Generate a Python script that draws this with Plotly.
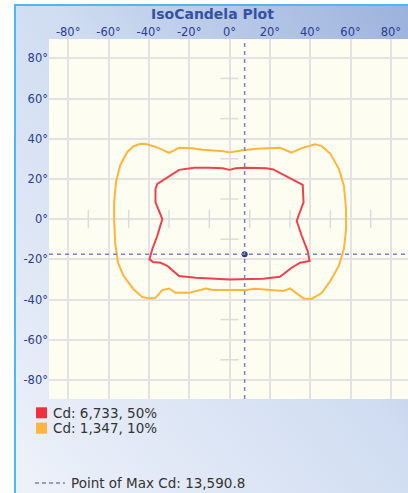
import plotly.graph_objects as go

# ---- data ----
title_text = "IsoCandela Plot"
x_ticks = [-80, -60, -40, -20, 0, 20, 40, 60, 80]
y_ticks = [80, 60, 40, 20, 0, -20, -40, -60, -80]
x_tick_labels = [f"{v}°" for v in x_ticks]
y_tick_labels = [f"{v}°" for v in y_ticks]
minor_ticks = [-70, -50, -30, -10, 10, 30, 50, 70]

red_label = "Cd: 6,733, 50%"
red_x = [0, 3, 8.3, 18.3, 21.7, 36.3, 36.7, 33.3, 35.8, 38.7, 39.7, 35, 30.8, 25, 16.7, 0,
         -16.7, -25, -30.8, -34.2, -38, -39.7, -38.3, -35.8, -33.3, -36.7, -36.7, -35.8,
         -25, -21.7, -17.5, -10, -3.3, 0]
red_y = [24.5, 25.3, 25.5, 25.3, 24.7, 17, 8.3, -0.8, -8.3, -15.8, -20.8, -21.7, -24.2, -28.7, -29.7, -30,
         -29.2, -28.3, -23.3, -21.7, -21.3, -20, -15, -8.3, 0, 8.3, 15, 17.5,
         24.5, 25, 25.5, 25.5, 25.3, 24.5]

orange_label = "Cd: 1,347, 10%"
orange_x = [0, 3, 6.7, 13.3, 25, 30.8, 35.8, 42.5, 45.8, 50, 54.2, 56.7, 57.8, 57.8, 56.7, 54.2,
            50, 45.8, 40.8, 36.7, 32.5, 30, 26.7, 20, 12.5, 8.3, 0,
            -8.3, -11.7, -15, -20, -26.7, -30, -33.3, -36.7, -40, -43.3, -47.5, -52.5, -55.3,
            -56.7, -57.2, -57.2, -56.3, -54.2, -50.8, -47.5, -44.2, -40.8, -35, -30, -25,
            -18.3, -13.3, -5, -3, 0]
orange_y = [33.2, 33.8, 34.2, 35, 35.5, 33, 35.3, 37.2, 36.3, 32.5, 25, 16.7, 5, -5, -15, -23.3,
            -30.8, -36.7, -39.7, -39.5, -36.3, -34.5, -35.8, -35.3, -34.7, -35.3, -35.3,
            -35.3, -34.5, -35.3, -36.7, -36.7, -34.5, -35.3, -39.2, -39.5, -38.7, -35, -28.3, -21.7,
            -11.7, 0, 8.3, 18.3, 26.7, 33.3, 36.3, 37.5, 37.2, 35.3, 33, 35.5,
            35.3, 34.5, 34, 33.8, 33.2]

max_x = [7.5]
max_y = [-17.5]
max_label = "Point of Max Cd: 13,590.8"

# ---- layout geometry (pixels) ----
W, H = 408, 493
L, T, B = 49, 39, 94
PW, PH = W - L, H - T - B


def px(x):
    return (x - L) / PW


def py(y):
    return (H - B - y) / PH


RED = "#f0303c"
ORANGE = "#ffb53a"
BLUE_TXT = "#2b3d92"
DASH_COL = "#7683c6"

fig = go.Figure()

# cream plot area (drawn above the panel gradient image, below gridlines)
fig.add_shape(type="rect", xref="paper", yref="paper", x0=0, x1=1, y0=0, y1=1,
              fillcolor="#fdfdf2", line=dict(width=0), layer="below")

# minor center ticks
for v in minor_ticks:
    fig.add_shape(type="line", x0=v, x1=v, y0=-4.5, y1=4.5, xref="x", yref="y",
                  line=dict(color="#dcdcdc", width=1.5), layer="between")
    fig.add_shape(type="line", x0=-4.5, x1=4.5, y0=v, y1=v, xref="x", yref="y",
                  line=dict(color="#dcdcdc", width=1.5), layer="between")

fig.add_trace(go.Scatter(x=orange_x, y=orange_y, mode="lines", name=orange_label,
                         line=dict(color=ORANGE, width=2), hoverinfo="skip"))
fig.add_trace(go.Scatter(x=red_x, y=red_y, mode="lines", name=red_label,
                         line=dict(color="#f04049", width=2), hoverinfo="skip"))

# crosshair at max point
fig.add_shape(type="line", x0=max_x[0], x1=max_x[0], y0=0, y1=1, xref="x", yref="paper",
              line=dict(color=DASH_COL, width=1.5, dash="4px,4px"))
fig.add_shape(type="line", x0=0, x1=1, y0=max_y[0], y1=max_y[0], xref="paper", yref="y",
              line=dict(color=DASH_COL, width=1.5, dash="4px,4px"))
fig.add_trace(go.Scatter(x=max_x, y=max_y, mode="markers", name=max_label,
                         marker=dict(color="#2c3c8c", size=6), hoverinfo="skip"))

# background panel gradient
svg = ("data:image/svg+xml;utf8,"
       "<svg xmlns='http://www.w3.org/2000/svg' width='400' height='500' preserveAspectRatio='none'>"
       "<defs><linearGradient id='g' x1='0' y1='1' x2='1' y2='0'>"
       "<stop offset='0' stop-color='%23eef2fa'/>"
       "<stop offset='0.55' stop-color='%23cfdcf1'/>"
       "<stop offset='1' stop-color='%239cb2dc'/>"
       "</linearGradient></defs>"
       "<rect width='400' height='500' fill='url(%23g)'/></svg>")
fig.add_layout_image(source=svg, xref="paper", yref="paper",
                     x=px(14), y=py(5), sizex=(W - 14) / PW, sizey=(H - 5) / PH,
                     xanchor="left", yanchor="top", sizing="stretch", layer="below")

# panel borders
fig.add_shape(type="line", xref="paper", yref="paper", x0=px(15), x1=px(15), y0=py(5), y1=py(H),
              line=dict(color="#4db8ef", width=2))
fig.add_shape(type="line", xref="paper", yref="paper", x0=px(14), x1=px(W), y0=py(5), y1=py(5),
              line=dict(color="#4db8ef", width=2))

# legend
legend_items = [(red_label, RED, 412.8), (orange_label, ORANGE, 428.2)]
for label, col, yc in legend_items:
    fig.add_shape(type="rect", xref="paper", yref="paper",
                  x0=px(36), x1=px(47), y0=py(yc - 5.5), y1=py(yc + 5.5),
                  fillcolor=col, line=dict(width=0))
    fig.add_annotation(text=label, xref="paper", yref="paper", x=px(51), y=py(yc),
                       xanchor="left", yanchor="middle", showarrow=False,
                       font=dict(family="DejaVu Sans", size=13.5, color="#333333"))
fig.add_shape(type="line", xref="paper", yref="paper", x0=px(35), x1=px(65),
              y0=py(483), y1=py(483), line=dict(color=DASH_COL, width=1.5, dash="4px,3px"))
fig.add_annotation(text=max_label, xref="paper", yref="paper", x=px(69), y=py(483),
                   xanchor="left", yanchor="middle", showarrow=False,
                   font=dict(family="DejaVu Sans", size=13.5, color="#333333"))

# title
fig.add_annotation(text="<b>" + title_text + "</b>", xref="paper", yref="paper",
                   x=px(212), y=py(14), xanchor="center", yanchor="middle", showarrow=False,
                   font=dict(family="DejaVu Sans", size=14, color="#3352a4"))

fig.update_layout(
    width=W, height=H,
    margin=dict(l=L, r=0, t=T, b=B),
    paper_bgcolor="white",
    plot_bgcolor="rgba(0,0,0,0)",
    showlegend=False,
    xaxis=dict(range=[-89.5, 88.5], side="top", tickvals=x_ticks, ticktext=x_tick_labels,
               showgrid=True, gridcolor="#e3e3e3", gridwidth=1.5, zeroline=False,
               ticks="", ticklen=0, showline=False, fixedrange=True,
               tickfont=dict(family="DejaVu Sans", size=11.5, color=BLUE_TXT)),
    yaxis=dict(range=[-89.5, 89.6], tickvals=y_ticks, ticktext=y_tick_labels,
               showgrid=True, gridcolor="#e3e3e3", gridwidth=1.5, zeroline=False,
               ticks="", showline=False, fixedrange=True,
               tickfont=dict(family="DejaVu Sans", size=11.5, color=BLUE_TXT)),
)

fig.write_html("out.html", config={"displayModeBar": False},
               post_script="document.body.style.margin='0';document.body.style.overflow='hidden';")
